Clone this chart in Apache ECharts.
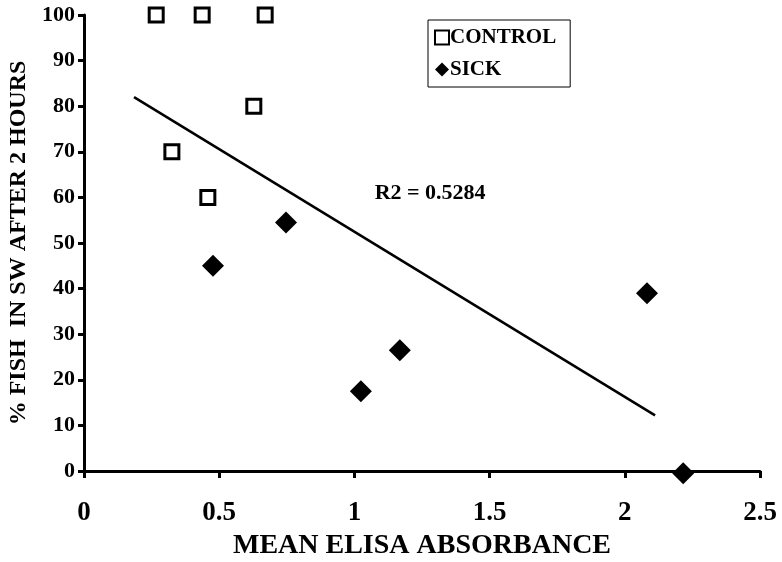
<!DOCTYPE html>
<html>
<head>
<meta charset="utf-8">
<script src="https://cdn.jsdelivr.net/npm/echarts@6/dist/echarts.min.js"></script>
<style>html,body{margin:0;padding:0;background:#fff}#c{width:782px;height:562px}</style>
</head>
<body>
<div id="c"></div>
<script>
// Data
const controlX = [0.267, 0.437, 0.670, 0.628, 0.325, 0.458];
const controlY = [100, 100, 100, 80, 70, 60];
const sickX = [0.477, 0.747, 1.024, 1.168, 2.082, 2.216];
const sickY = [45, 54.5, 17.5, 26.5, 39, -0.5];
const trendX = [0.185, 2.112];
const trendY = [82, 12.2];
const r2Label = 'R2 = 0.5284';
const r2Pos = [1.28, 61];
const xTicks = [0, 0.5, 1, 1.5, 2, 2.5];
const yTicks = [0, 10, 20, 30, 40, 50, 60, 70, 80, 90, 100];
const seriesNames = ['CONTROL', 'SICK'];
const xTitle = 'MEAN ELISA ABSORBANCE';
const yTitle = '% FISH  IN SW AFTER 2 HOURS';

const FONT = '"Liberation Serif", "DejaVu Serif", serif';
const zip = (a, b) => a.map((v, i) => [v, b[i]]);

const chart = echarts.init(document.getElementById('c'), null, {renderer: 'canvas'});
chart.setOption({
  backgroundColor: '#fff',
  animation: false,
  textStyle: {fontFamily: FONT, color: '#000'},
  grid: {left: 84, right: 22, top: 15, bottom: 91, containLabel: false, outerBoundsMode: 'none'},
  legend: {
    data: seriesNames,
    orient: 'vertical',
    left: 428, top: 20,
    itemWidth: 14, itemHeight: 14,
    itemGap: 11,
    padding: [7, 14, 7, 6],
    borderColor: '#000', borderWidth: 1,
    textStyle: {fontFamily: FONT, fontWeight: 'bold', fontSize: 21, color: '#000', padding: [0, 0, 0, -4]},
    selectedMode: false
  },
  xAxis: {
    type: 'value', min: xTicks[0], max: xTicks[xTicks.length - 1], interval: 0.5,
    name: xTitle, nameLocation: 'middle', nameGap: 60,
    nameTextStyle: {fontFamily: FONT, fontWeight: 'bold', fontSize: 28, color: '#000'},
    axisLine: {show: true, onZero: false, lineStyle: {color: '#000', width: 3}},
    axisTick: {show: true, inside: false, length: 7, lineStyle: {color: '#000', width: 3}},
    axisLabel: {margin: 29, fontFamily: FONT, fontWeight: 'bold', fontSize: 27, color: '#000',
      formatter: v => String(v)},
    splitLine: {show: false}
  },
  yAxis: {
    type: 'value', min: yTicks[0], max: yTicks[yTicks.length - 1], interval: 10,
    name: yTitle, nameLocation: 'middle', nameGap: 50, nameRotate: 90,
    nameTextStyle: {fontFamily: FONT, fontWeight: 'bold', fontSize: 24, color: '#000'},
    axisLine: {show: true, onZero: false, lineStyle: {color: '#000', width: 3}},
    axisTick: {show: true, inside: false, length: 6, lineStyle: {color: '#000', width: 3}},
    axisLabel: {margin: 9, fontFamily: FONT, fontWeight: 'bold', fontSize: 22, color: '#000'},
    splitLine: {show: false}
  },
  series: [
    {
      name: 'trend', type: 'line', data: zip(trendX, trendY), symbol: 'none',
      lineStyle: {color: '#000', width: 2.5}, silent: true, z: 1,
      markPoint: {
        symbol: 'circle', symbolSize: 0,
        data: [{coord: r2Pos, value: r2Label}],
        label: {show: true, formatter: r2Label, fontFamily: FONT, fontWeight: 'bold', fontSize: 22, color: '#000', position: 'inside'}
      }
    },
    {
      name: seriesNames[0], type: 'scatter', data: zip(controlX, controlY), symbol: 'rect', symbolSize: 14,
      clip: false,
      itemStyle: {color: '#fff', borderColor: '#000', borderWidth: 3, opacity: 1}, z: 3
    },
    {
      name: seriesNames[1], type: 'scatter', data: zip(sickX, sickY), symbol: 'diamond', symbolSize: 22,
      clip: false,
      itemStyle: {color: '#000', borderColor: '#000', borderWidth: 0, opacity: 1}, z: 3
    }
  ]
});
</script>
</body>
</html>
